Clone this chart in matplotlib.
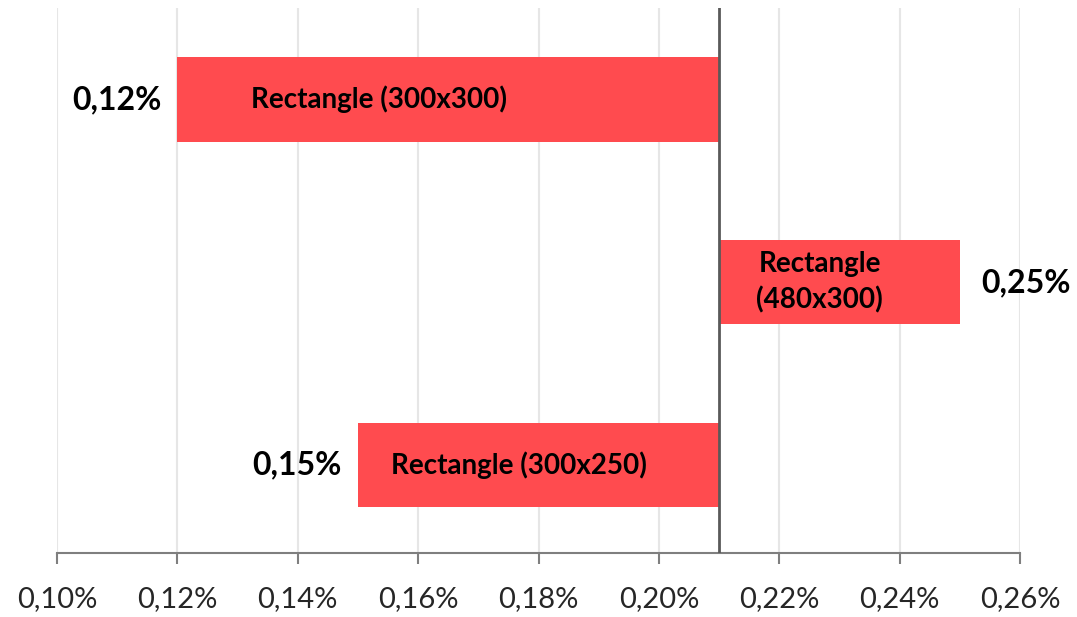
import matplotlib.pyplot as plt
from matplotlib.ticker import FuncFormatter

# données (en %)
labels = ["Rectangle (300x300)", "Rectangle\n(480x300)", "Rectangle (300x250)"]
values = [0.12, 0.25, 0.15]
baseline = 0.21
label_x = [0.1535, 0.2267, 0.1767]
xticks = [0.10, 0.12, 0.14, 0.16, 0.18, 0.20, 0.22, 0.24, 0.26]

plt.rcParams['font.family'] = ['Lato', 'DejaVu Sans']

fig = plt.figure(figsize=(10.77, 6.17), dpi=100)
ax = fig.add_axes([57 / 1077, 1 - 553 / 617, (1020 - 57) / 1077, (553 - 8) / 617])

ypos = list(range(len(values)))
widths = [v - baseline for v in values]
ax.barh(ypos, widths, left=baseline, height=0.46, color='#FF4B4F', zorder=2)

for y, v, lab, lx in zip(ypos, values, labels, label_x):
    ax.text(lx, y, lab, ha='center', va='center', fontsize=20, fontweight='bold',
            linespacing=1.4, zorder=3)
    off = -0.0101 if v < baseline else 0.011
    ax.text(v + off, y, f"{v:.2f}%".replace('.', ','), ha='center', va='center',
            fontsize=23, fontweight='bold')

ax.axvline(baseline, color='#595959', lw=2, zorder=3)

ax.set_xlim(0.10, 0.26)
ax.set_ylim(2.48, -0.5)
ax.set_xticks(xticks)
ax.xaxis.set_major_formatter(FuncFormatter(lambda x, p: f"{x:.2f}%".replace('.', ',')))
ax.set_yticks([])
ax.grid(axis='x', color='#E6E6E6', lw=1.5, zorder=0)
ax.set_axisbelow(True)

for s in ['top', 'right', 'left']:
    ax.spines[s].set_visible(False)
ax.spines['bottom'].set_color('#7F7F7F')
ax.spines['bottom'].set_linewidth(1.5)
ax.tick_params(axis='x', length=8, width=1.5, color='#7F7F7F', labelsize=21, pad=16, labelcolor='#262626')

fig.savefig('out.png', dpi=100)
